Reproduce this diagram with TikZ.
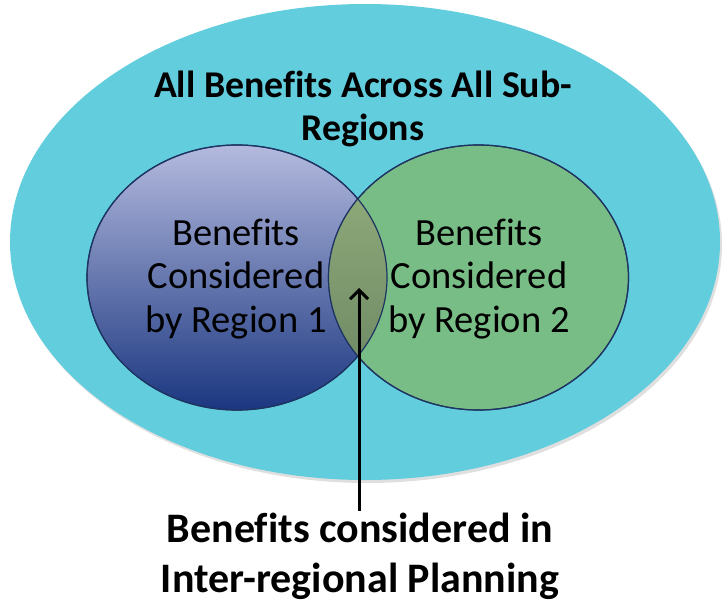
\documentclass[tikz,border=0pt]{standalone}
\usepackage{fontspec}
\setmainfont{Carlito}[Ligatures=NoCommon]
\usepackage{xcolor}
\usetikzlibrary{shapes.geometric,arrows.meta,shadows}

\definecolor{outercyan}{RGB}{98,205,221}
\definecolor{regtop}{RGB}{180,186,222}
\definecolor{regbottom}{RGB}{27,55,128}
\definecolor{regtwo}{RGB}{121,189,134}
\definecolor{laptop}{RGB}{150,176,126}
\definecolor{lapbottom}{RGB}{104,132,96}
\definecolor{rim}{RGB}{30,52,98}

\begin{document}
\begin{tikzpicture}[x=1pt, y=-1pt,
      venn/.style = {ellipse, draw=rim, line width=1.2pt, minimum width=300pt, minimum height=265pt, inner sep=0pt},
      regtext/.style = {align=center, font=\fontsize{38.5}{43.5}\selectfont},
      bigtext/.style = {align=center, font=\bfseries\fontsize{37.8}{43}\selectfont},
      asktext/.style = {align=center, font=\bfseries\fontsize{42}{50}\selectfont, inner sep=2pt}
      ]
      \useasboundingbox (0,0) rectangle (722,602);
      \node[ellipse, fill=outercyan, minimum width=710pt, minimum height=476pt,
            drop shadow={opacity=0.25, shadow xshift=2pt, shadow yshift=-3pt}] (all) at (365,242) {};
      \node[venn, top color=regtop, bottom color=regbottom] (one) at (237,277.5) {};
      \node[venn, fill=regtwo] (two) at (478.5,277.5) {};
      % overlap of the two regions
      \begin{scope}
            \clip (one.center) ellipse [x radius=150pt, y radius=132.5pt];
            \fill[top color=laptop, bottom color=lapbottom] (two.center) ellipse [x radius=150pt, y radius=132.5pt];
      \end{scope}
      \draw[rim, line width=1.2pt] (one.center) ellipse [x radius=150pt, y radius=132.5pt];
      \draw[rim, line width=1.2pt] (two.center) ellipse [x radius=150pt, y radius=132.5pt];

      \node[bigtext] (title) at (363,109) {All Benefits Across All Sub-\\Regions};
      \node[regtext] (onetext) at (236,279) {Benefits\\Considered\\by Region 1};
      \node[regtext] (twotext) at (479,279) {Benefits\\Considered\\by Region 2};
      \node[asktext] (inter) at (360,556) {Benefits considered in\\Inter-regional Planning};

      \coordinate (lap) at (359,288);
      \draw[line width=3pt, -{Straight Barb[length=9pt, width=18pt]}] (inter.north -| lap) -- (lap);
\end{tikzpicture}
\end{document}
